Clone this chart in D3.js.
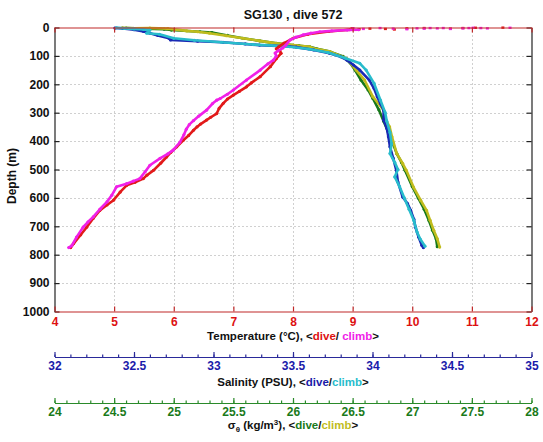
<!DOCTYPE html>
<html><head><meta charset="utf-8">
<script src="https://cdn.jsdelivr.net/npm/d3@7"></script>
<style>
body{margin:0;background:#fff;}
svg{display:block;font-family:Arial,"Liberation Sans",Helvetica,sans-serif;font-weight:bold;}
</style></head>
<body>
<svg id="c" width="543" height="442"></svg>
<script>
// ---------- data ----------
const title = "SG130 , dive 572";
const depthTicks = [0,100,200,300,400,500,600,700,800,900,1000];
const tempTicks = [4,5,6,7,8,9,10,11,12];
const salTicks = [32,32.5,33,33.5,34,34.5,35];
const densTicks = [24,24.5,25,25.5,26,26.5,27,27.5,28];

// [temperature, depth]
const tempDiveSurface = [[8.99,3],[9.11,6],[9.29,4],[9.55,5],[9.7,7],[9.91,3],[10.2,2],[10.64,4],[10.85,2],[11.06,1],[11.52,0.5]];
const tempDive = [[8.95,8],[8.6,14],[8.25,24],[8.0,38],[7.85,55],[7.76,68],[7.72,75],[7.78,82],[7.80,91],[7.72,110],[7.62,138],[7.45,173],[7.30,195],[7.22,209],[7.10,225],[7.00,238],[6.90,252],[6.83,267],[6.76,285],[6.72,303],[6.62,316],[6.55,326],[6.45,340],[6.39,350],[6.33,362],[6.25,380],[6.16,397],[6.05,420],[5.95,440],[5.88,456],[5.78,478],[5.66,503],[5.55,520],[5.49,532],[5.35,545],[5.21,556],[5.10,580],[4.99,608],[4.88,625],[4.76,644],[4.65,672],[4.54,703],[4.44,730],[4.32,761],[4.27,775]];
const tempClimbSurface = [[9.01,3],[9.18,5],[9.46,2],[9.68,4],[9.91,6],[10.08,3],[10.2,4],[10.30,2],[10.42,3],[10.52,2],[10.64,5],[10.85,3],[10.95,2],[11.02,1],[11.15,2],[11.26,3],[11.64,1]];
const tempClimb = [[9.10,8],[8.91,9],[8.65,12],[8.45,15],[8.30,20],[8.17,26],[8.05,34],[7.95,44],[7.88,62],[7.83,72],[7.75,82],[7.70,90],[7.72,100],[7.67,115],[7.58,128],[7.45,150],[7.22,185],[7.00,220],[6.90,235],[6.78,250],[6.72,256],[6.65,268],[6.55,291],[6.42,312],[6.33,328],[6.26,342],[6.21,358],[6.17,378],[6.10,405],[5.99,432],[5.90,445],[5.77,461],[5.60,485],[5.52,508],[5.43,532],[5.32,541],[5.21,550],[5.04,561],[4.96,591],[4.88,614],[4.76,640],[4.65,667],[4.56,685],[4.48,703],[4.37,738],[4.29,768],[4.24,775]];

// [salinity, depth]
const salDive = [[32.38,2],[32.43,3],[32.50,8],[32.56,14],[32.60,20],[32.65,28],[32.72,38],[32.73,44],[32.90,48],[33.06,52],[33.20,58],[33.29,62],[33.48,67],[33.52,69],[33.63,79],[33.73,91],[33.80,103],[33.84,115],[33.88,132],[33.92,150],[33.98,185],[34.01,215],[34.03,244],[34.05,268],[34.07,291],[34.07,326],[34.09,355],[34.10,385],[34.11,420],[34.13,460],[34.15,503],[34.16,544],[34.19,597],[34.22,620],[34.24,644],[34.26,675],[34.27,703],[34.29,738],[34.31,767],[34.32,775]];
const salClimb = [[32.39,1],[32.44,3],[32.50,5],[32.56,7],[32.60,9],[32.58,20],[32.66,24],[32.75,38],[32.88,45],[33.05,52],[33.25,60],[33.45,66],[33.60,76],[33.72,88],[33.83,108],[33.92,126],[33.96,150],[34.01,197],[34.05,256],[34.08,300],[34.09,330],[34.11,370],[34.12,410],[34.11,444],[34.14,475],[34.16,500],[34.14,526],[34.17,560],[34.20,600],[34.23,640],[34.26,680],[34.28,720],[34.30,745],[34.33,770]];

// [sigma-theta, depth]
const densDive = [[24.60,2],[24.75,4],[24.92,6],[24.98,9],[25.22,15],[25.32,18],[25.45,28],[25.58,38],[25.72,47],[25.86,56],[26.05,64],[26.14,68],[26.20,75],[26.31,85],[26.42,102],[26.48,125],[26.52,150],[26.57,185],[26.63,220],[26.67,250],[26.72,290],[26.76,330],[26.80,370],[26.84,410],[26.87,444],[26.91,475],[26.94,503],[27.00,560],[27.05,600],[27.10,640],[27.14,680],[27.17,714],[27.20,744],[27.21,772]];
const densClimb = [[24.57,1],[24.66,3],[24.80,2],[24.95,4],[25.11,12],[25.20,15],[25.30,20],[25.44,29],[25.58,38],[25.72,47],[25.86,56],[26.00,62],[26.14,68],[26.17,73],[26.31,85],[26.45,109],[26.53,150],[26.60,185],[26.67,244],[26.76,291],[26.78,326],[26.81,350],[26.83,385],[26.87,444],[26.92,479],[26.95,503],[27.01,562],[27.07,608],[27.12,644],[27.15,679],[27.18,714],[27.21,744],[27.23,773]];

// ---------- layout ----------
const X0 = 54.5, X1 = 531.5, Y0 = 27.5, Y1 = 311.5;
const SAL_Y = 357, DENS_Y = 403;
const col = {
  tAxis:"#c02828", tLab:"#dd1111", red:"#e21a1a", mag:"#f020e8",
  sAxis:"#2a2a9a", sLab:"#1a1aaa", blue:"#1a2ab4", cyan:"#28bccc",
  dAxis:"#2a8a2a", dLab:"#1a7a1a", green:"#16781a", yel:"#c0bc1e"
};

const svg = d3.select("#c");
const y = d3.scaleLinear().domain([0,1000]).range([Y0,Y1]);
const xT = d3.scaleLinear().domain([4,12]).range([X0,X1]);
const xS = d3.scaleLinear().domain([32,35]).range([X0,X1]);
const xD = d3.scaleLinear().domain([24,28]).range([X0,X1]);

// grid
const grid = svg.append("g").attr("stroke","#a0a0a0").attr("stroke-width",1).attr("stroke-dasharray","1,3");
depthTicks.slice(1,-1).forEach(d=>grid.append("line").attr("x1",X0).attr("x2",X1).attr("y1",Math.round(y(d))+0.5).attr("y2",Math.round(y(d))+0.5));
tempTicks.slice(1,-1).forEach(t=>grid.append("line").attr("y1",Y0).attr("y2",Y1).attr("x1",Math.round(xT(t))+0.5).attr("x2",Math.round(xT(t))+0.5));

// data
function series(data, xs, color){
  const g = svg.append("g");
  g.append("path").datum(data)
    .attr("d", d3.line().x(d=>xs(d[0])).y(d=>y(d[1])))
    .attr("fill","none").attr("stroke",color).attr("stroke-width",2.6)
    .attr("stroke-linejoin","round").attr("stroke-linecap","round");
  g.selectAll("circle").data(data).join("circle")
    .attr("cx",d=>xs(d[0])).attr("cy",d=>y(d[1])).attr("r",1.6).attr("fill",color);
}
function dots(data, xs, color){
  svg.append("g").selectAll("rect").data(data).join("rect")
    .attr("x",d=>xs(d[0])-1.5).attr("y",d=>y(d[1])-1.2).attr("width",3).attr("height",2.4).attr("fill",color);
}
series(densDive, xD, col.green);
series(densClimb, xD, col.yel);
series(salDive, xS, col.blue);
series(salClimb, xS, col.cyan);
series(tempDive, xT, col.red);
dots(tempDiveSurface, xT, col.red);
series(tempClimb, xT, col.mag);
dots(tempClimbSurface, xT, col.mag);

// axes
function styleAxis(g, color, labColor){
  g.selectAll("path.domain").attr("stroke",color).attr("stroke-width",1.2);
  g.selectAll(".tick line").attr("stroke",color).attr("stroke-width",1.2);
  g.selectAll(".tick text").attr("fill",labColor).attr("font-size","12px").attr("font-weight","bold")
    .attr("font-family","Arial,'Liberation Sans',Helvetica,sans-serif");
}
const gl = svg.append("g").attr("transform",`translate(${X0},0)`)
  .call(d3.axisLeft(y).tickValues(depthTicks).tickSize(-5).tickSizeOuter(0).tickPadding(5).tickFormat(d3.format("d")));
styleAxis(gl,"#222","#111");
const gr = svg.append("g").attr("transform",`translate(${X1},0)`)
  .call(d3.axisRight(y).tickValues(depthTicks).tickSize(-5).tickSizeOuter(0).tickFormat(""));
styleAxis(gr,"#222","#111");
const gt = svg.append("g").attr("transform",`translate(0,${Y0})`)
  .call(d3.axisTop(xT).tickValues(tempTicks).tickSize(-5).tickSizeOuter(0).tickFormat(""));
styleAxis(gt,col.tAxis,col.tLab);
const gb = svg.append("g").attr("transform",`translate(0,${Y1})`)
  .call(d3.axisBottom(xT).tickValues(tempTicks).tickSize(-5).tickSizeOuter(0).tickPadding(6).tickFormat(d3.format("d")));
styleAxis(gb,col.tAxis,col.tLab);

// salinity axis
const salMinor = d3.range(320,351).map(v=>v/10);
const gsm = svg.append("g").attr("transform",`translate(0,${SAL_Y})`)
  .call(d3.axisBottom(xS).tickValues(salMinor).tickSize(-2.5).tickSizeOuter(0).tickFormat(""));
styleAxis(gsm,col.sAxis,col.sLab);
const gs = svg.append("g").attr("transform",`translate(0,${SAL_Y})`)
  .call(d3.axisBottom(xS).tickValues(salTicks).tickSize(-5).tickSizeOuter(0).tickPadding(4).tickFormat(d=>String(d)));
styleAxis(gs,col.sAxis,col.sLab);

// density axis
const densMinor = d3.range(240,281).map(v=>v/10);
const gdm = svg.append("g").attr("transform",`translate(0,${DENS_Y})`)
  .call(d3.axisBottom(xD).tickValues(densMinor).tickSize(-2.5).tickSizeOuter(0).tickFormat(""));
styleAxis(gdm,col.dAxis,col.dLab);
const gd = svg.append("g").attr("transform",`translate(0,${DENS_Y})`)
  .call(d3.axisBottom(xD).tickValues(densTicks).tickSize(-5).tickSizeOuter(0).tickPadding(4).tickFormat(d=>String(d)));
styleAxis(gd,col.dAxis,col.dLab);

// titles
const cx = (X0+X1)/2;
svg.append("text").attr("x",cx).attr("y",19).attr("text-anchor","middle").attr("font-size","12.5px").attr("fill","#111").text(title);
svg.append("text").attr("transform",`translate(16,176) rotate(-90)`).attr("text-anchor","middle").attr("font-size","12px").attr("fill","#111").text("Depth (m)");

function richTitle(yb, parts){
  const t = svg.append("text").attr("x",cx).attr("y",yb).attr("text-anchor","middle").attr("font-size","11.5px").attr("fill","#111");
  parts.forEach(p=>{
    const s = t.append("tspan").text(p.t);
    if(p.c) s.attr("fill",p.c);
    if(p.dy) s.attr("dy",p.dy);
    if(p.fs) s.attr("font-size",p.fs);
  });
}
richTitle(339.5,[{t:"Temperature ("},{t:"°",dy:"0"},{t:"C), <"},{t:"dive",c:col.tLab},{t:"/ "},{t:"climb",c:col.mag},{t:">"}]);
richTitle(386,[{t:"Salinity (PSU), <"},{t:"dive",c:col.sLab},{t:"/"},{t:"climb",c:col.cyan},{t:">"}]);
richTitle(429,[{t:"σ"},{t:"θ",dy:"3",fs:"8px"},{t:" (kg/m",dy:"-3"},{t:"3",dy:"-4",fs:"8px"},{t:"), <",dy:"4"},{t:"dive",c:col.dLab},{t:"/"},{t:"climb",c:col.yel},{t:">"}]);
</script>
</body></html>
